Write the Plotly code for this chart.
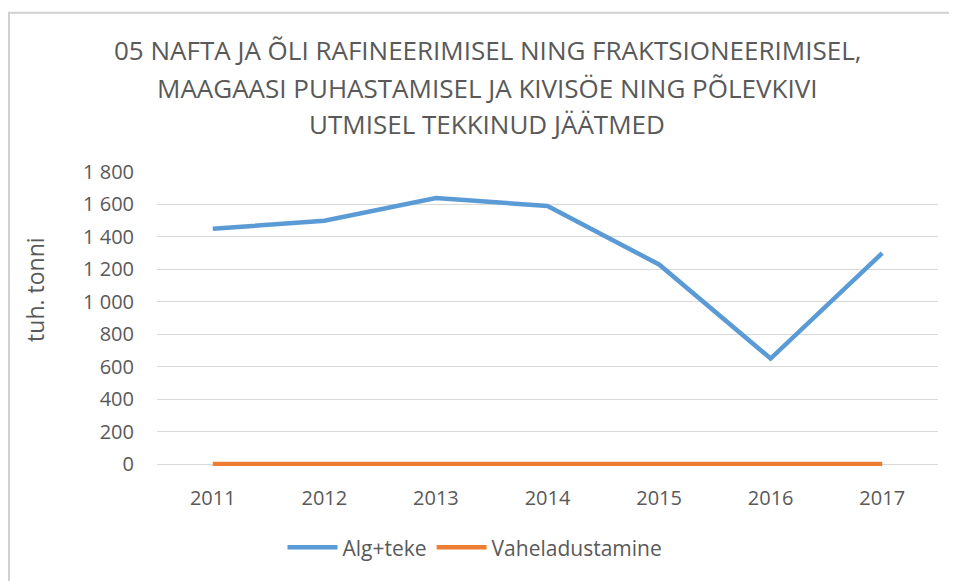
import plotly.graph_objects as go

years = ["2011", "2012", "2013", "2014", "2015", "2016", "2017"]
alg_teke = [1450, 1500, 1640, 1590, 1230, 650, 1300]
vaheladustamine = [0, 0, 0, 0, 0, 0, 0]
series_names = ["Alg+teke", "Vaheladustamine"]
title_lines = [
    "05 NAFTA JA ÕLI RAFINEERIMISEL NING FRAKTSIONEERIMISEL,",
    "MAAGAASI PUHASTAMISEL JA KIVISÖE NING PÕLEVKIVI",
    "UTMISEL TEKKINUD JÄÄTMED",
]
y_ticks = [0, 200, 400, 600, 800, 1000, 1200, 1400, 1600, 1800]
y_title = "tuh. tonni"

OFF = 8  # page body margin
W, H = 957 - OFF, 581 - OFF
Y0, Y1 = -12, 1800
scale = 292.0 / 1800  # px per unit
L, R = 157 - OFF, 938 - OFF
T = 172 - OFF
B = 464.3 - OFF - Y0 * scale
ml, mr, mt, mb = L, W - R, T, H - B
pw, ph = R - L, B - T


def px(x):
    return (x - OFF - L) / pw


def py(y):
    return (B - (y - OFF)) / ph


TXT = "#595959"
BODY = "Open Sans"
TITLEF = "Liberation Sans Narrow, Open Sans"
BORDER = "#D0D0D0"

fig = go.Figure()
fig.add_trace(go.Scatter(x=years, y=alg_teke, name=series_names[0], mode="lines",
                         line=dict(color="#5B9BD5", width=4.5)))
fig.add_trace(go.Scatter(x=years, y=vaheladustamine, name=series_names[1], mode="lines",
                         line=dict(color="#ED7D31", width=4.5)))

annotations = []
for i, (line, yc) in enumerate(zip(title_lines, [50, 88, 124])):
    annotations.append(dict(text=line, x=px(487), y=py(yc), xref="paper", yref="paper",
                            xanchor="center", yanchor="middle", showarrow=False,
                            font=dict(family=TITLEF, size=26, color=TXT)))
annotations.append(dict(text=y_title, x=px(35), y=py(290), xref="paper", yref="paper",
                        xanchor="center", yanchor="middle", showarrow=False, textangle=-90,
                        font=dict(family=BODY, size=23, color=TXT)))

left_x = px(OFF + 1)
top_y = py(12.5)
fig.update_layout(
    width=W, height=H,
    margin=dict(l=ml, r=mr, t=mt, b=mb),
    paper_bgcolor="white", plot_bgcolor="white",
    separators=", ",
    font=dict(family=BODY, color=TXT),
    showlegend=True,
    legend=dict(orientation="h", x=px(475), y=py(548), xanchor="center", yanchor="middle",
                font=dict(family=BODY, size=21, color=TXT), itemwidth=50,
                bgcolor="rgba(0,0,0,0)"),
    annotations=annotations,
    shapes=[
        dict(type="rect", xref="paper", yref="paper", x0=left_x, x1=px(970),
             y0=py(600), y1=top_y, line=dict(color=BORDER, width=2),
             fillcolor="rgba(0,0,0,0)", layer="above"),
    ],
)
fig.update_xaxes(type="category", range=[-0.5, 6.5], showgrid=False, showline=False,
                 zeroline=False, ticks="outside", ticklen=14, tickcolor="rgba(0,0,0,0)",
                 tickfont=dict(family=BODY, size=20, color=TXT))
fig.update_yaxes(range=[Y0, Y1], tickvals=y_ticks, tickformat=",d", showgrid=True,
                 gridcolor="#D9D9D9", gridwidth=1.3, zeroline=False, showline=False,
                 ticks="outside", ticklen=18, tickcolor="rgba(0,0,0,0)",
                 tickfont=dict(family=BODY, size=20, color=TXT))

fig.write_html("out.html", config={"displayModeBar": False})
